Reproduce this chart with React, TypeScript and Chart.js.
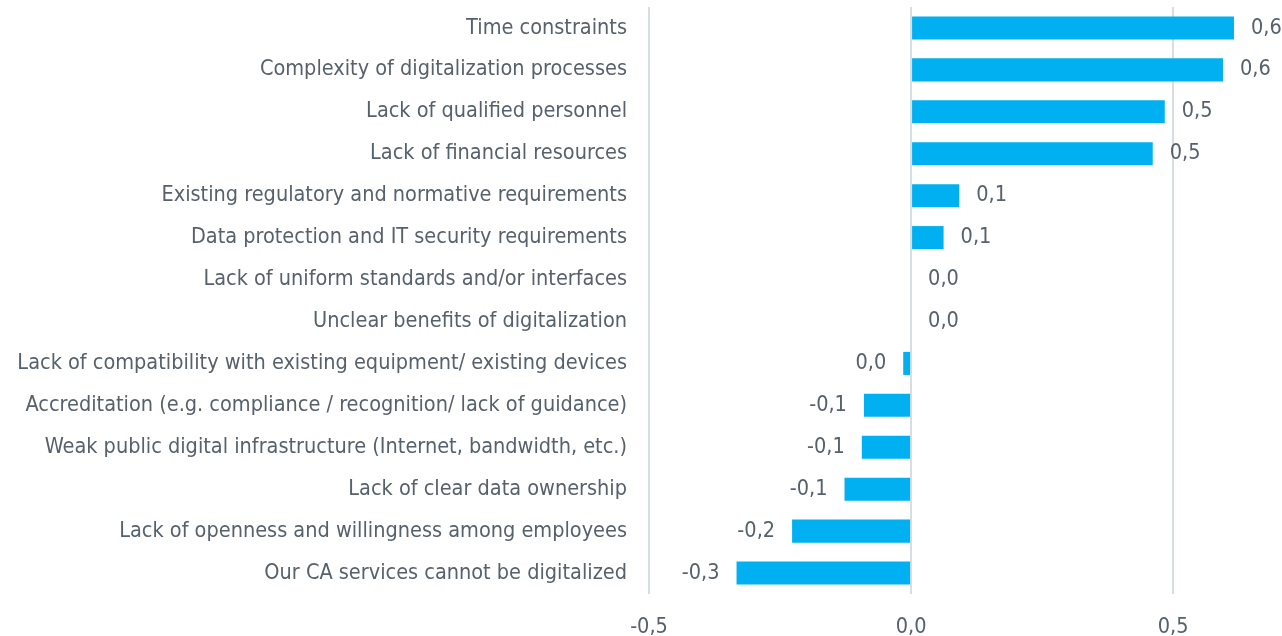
import React, { useEffect, useRef } from "react";
import { Chart, registerables } from "chart.js";

Chart.register(...registerables);

const categories = [
  "Time constraints",
  "Complexity of digitalization processes",
  "Lack of qualified personnel",
  "Lack of financial resources",
  "Existing regulatory and normative requirements",
  "Data protection and IT security requirements",
  "Lack of uniform standards and/or interfaces",
  "Unclear benefits of digitalization",
  "Lack of compatibility with existing equipment/ existing devices",
  "Accreditation (e.g. compliance / recognition/ lack of guidance)",
  "Weak public digital infrastructure (Internet, bandwidth, etc.)",
  "Lack of clear data ownership",
  "Lack of openness and willingness among employees",
  "Our CA services cannot be digitalized",
];

const values = [
  0.616, 0.595, 0.484, 0.461, 0.092, 0.062, 0.0, 0.0, -0.015, -0.09, -0.094,
  -0.127, -0.227, -0.333,
];

const tickValues = [-0.5, 0, 0.5];

const FONT = "'DejaVu Sans Condensed', 'Liberation Sans Narrow', Roboto, sans-serif";
const FONT_SIZE = 21.5;
const TEXT_COLOR = "#56616c";
const BAR_COLOR = "#00b0f0";
const GRID_COLOR = "#d6dde3";

function fmt(v: number): string {
  let s = v.toFixed(1);
  if (s === "-0.0") s = "0.0";
  return s.replace(".", ",");
}

const valueLabels = {
  id: "valueLabels",
  afterDatasetsDraw(chart: any) {
    const ctx = chart.ctx;
    const meta = chart.getDatasetMeta(0);
    ctx.save();
    ctx.font = `${FONT_SIZE}px ${FONT}`;
    ctx.fillStyle = TEXT_COLOR;
    ctx.textBaseline = "middle";
    meta.data.forEach((el: any, i: number) => {
      const v = values[i];
      const txt = fmt(v);
      if (v >= 0) {
        ctx.textAlign = "left";
        ctx.fillText(txt, el.x + 17, el.y);
      } else {
        ctx.textAlign = "right";
        ctx.fillText(txt, el.x - 17, el.y);
      }
    });
    ctx.restore();
  },
};

export default function App() {
  const ref = useRef<HTMLCanvasElement | null>(null);

  useEffect(() => {
    document.body.style.margin = "0";
    if (!ref.current) return;
    const chart = new Chart(ref.current, {
      type: "bar",
      data: {
        labels: categories,
        datasets: [
          {
            data: values,
            backgroundColor: BAR_COLOR,
            borderWidth: 0,
            barPercentage: 0.55,
            categoryPercentage: 1,
          },
        ],
      },
      options: {
        indexAxis: "y",
        animation: false,
        responsive: false,
        devicePixelRatio: 1,
        layout: { padding: { top: 7, right: 4, left: 0, bottom: 0 } },
        plugins: {
          legend: { display: false },
          tooltip: { enabled: false },
        },
        scales: {
          x: {
            min: -0.5,
            max: 0.7,
            afterBuildTicks: (scale: any) => {
              scale.ticks = tickValues.map((v) => ({ value: v }));
            },
            afterFit: (scale: any) => {
              scale.height = 42;
              scale.paddingTop = 0;
              scale.paddingBottom = 0;
            },
            grid: {
              color: GRID_COLOR,
              lineWidth: 2,
              drawTicks: false,
            },
            border: { display: false },
            ticks: {
              padding: 21,
              color: TEXT_COLOR,
              font: { family: FONT, size: FONT_SIZE },
              callback: (v: any) => fmt(Number(v)),
            },
          },
          y: {
            afterFit: (scale: any) => {
              scale.width = 649;
              scale.paddingTop = 0;
              scale.paddingBottom = 0;
            },
            grid: { display: false, drawTicks: false },
            border: { display: false },
            ticks: {
              padding: 22,
              color: TEXT_COLOR,
              font: { family: FONT, size: FONT_SIZE },
              autoSkip: false,
            },
          },
        },
      },
      plugins: [valueLabels],
    });
    return () => chart.destroy();
  }, []);

  return (
    <div style={{ width: 1282, height: 636 }}>
      <canvas ref={ref} width={1282} height={636} />
    </div>
  );
}
